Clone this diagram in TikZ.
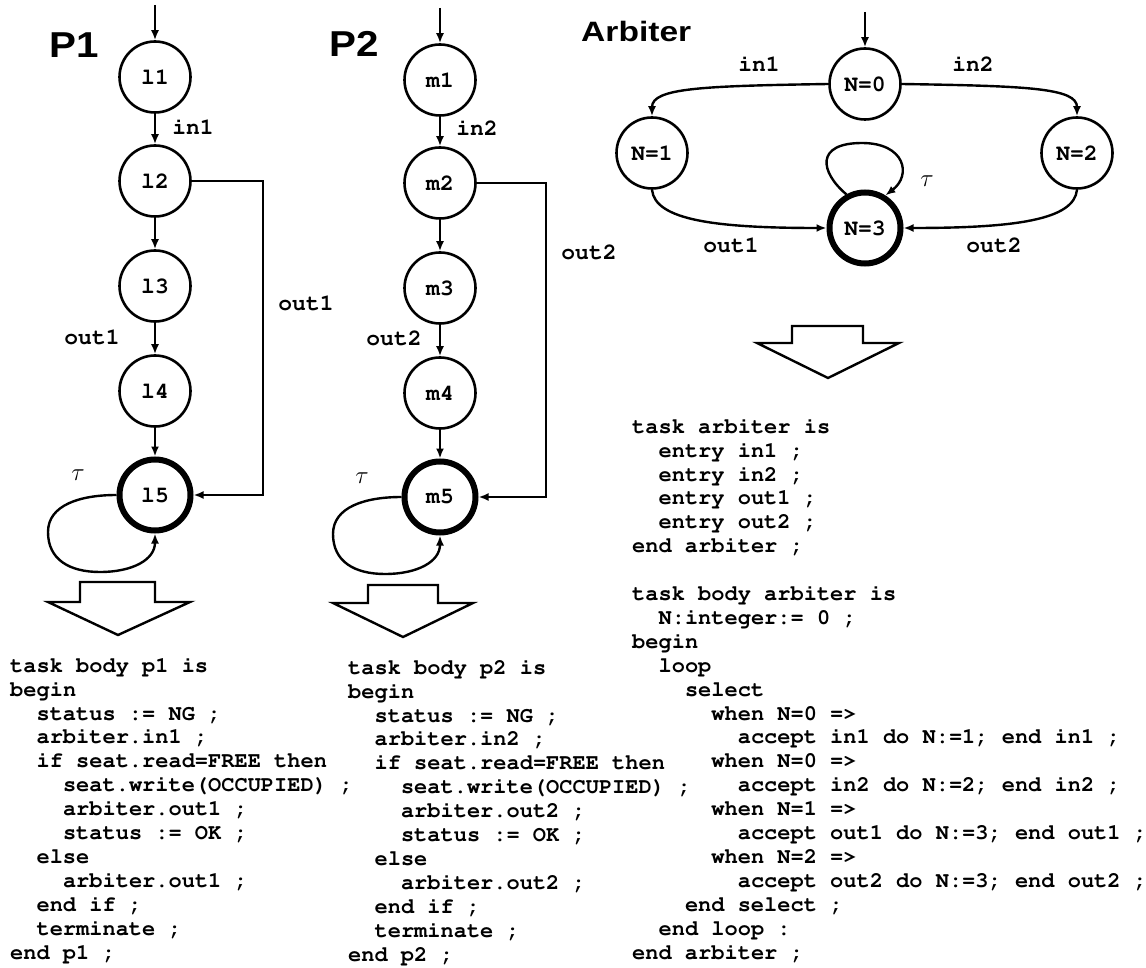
\documentclass[tikz,border=0pt]{standalone}
\usepackage[T1]{fontenc}
\usepackage{fontspec}
\setmainfont{Liberation Sans}
\usetikzlibrary{arrows.meta}
% Courier Bold (URW Nimbus Mono) for all program text and state labels
\newcommand\courb{\fontencoding{T1}\fontfamily{pcr}\fontseries{b}\fontshape{n}\selectfont}
\tikzset{
  locn/.style={circle, draw, line width=2.6pt, minimum size=71pt, inner sep=0pt,
    font=\courb\fontsize{23}{23}\selectfont},
  locfin/.style={locn, line width=6pt},
  trn/.style={line width=2.4pt, -{Latex[length=10pt,width=8pt]}},
  elab/.style={inner sep=0pt, font=\courb\fontsize{23}{23}\selectfont},
  taulab/.style={inner sep=0pt, font=\fontsize{25}{25}\selectfont},
  ttl/.style={inner sep=0pt, anchor=base west, xscale=1.12,
    font=\bfseries\fontsize{36}{36}\selectfont},
  listing/.style={inner sep=0pt, anchor=north west, align=left,
    font=\courb\fontsize{22}{23.9}\selectfont},
  hollowarrow/.style={draw, line width=2.4pt, line join=miter, fill=white}
}
\begin{document}
\begin{tikzpicture}[x=1pt,y=-1pt]
\fill[white] (0,0) rectangle (1146,968);
\useasboundingbox (0,0) rectangle (1146,968);

% ---------- titles ----------
\node[ttl] (tP1) at (49,58) {P1};
\node[ttl] (tP2) at (329,57) {P2};
\node[ttl, xscale=1.07, font=\bfseries\fontsize{28}{28}\selectfont] (tArb) at (581,42) {Arbiter};

% ---------- process P1 ----------
\coordinate (l0) at (155,5);
\node[locn]   (l1) at (155,77)  {l1};
\node[locn]   (l2) at (155,181) {l2};
\node[locn]   (l3) at (155,286) {l3};
\node[locn]   (l4) at (155,391) {l4};
\node[locfin] (l5) at (155,495) {l5};
\coordinate (lr) at (263,181);
\draw[trn] (l0) -- (l1);
\draw[trn] (l1) -- (l2);
\draw[trn] (l2) -- (l3);
\draw[trn] (l3) -- (l4);
\draw[trn] (l4) -- (l5);
\draw[trn] (l2.east) -- (lr) |- (l5.east);
\draw[trn] (l5.west) .. controls (80,495) and (48,505) .. (48,532)
  .. controls (48,560) and (70,572) .. (100,572)
  .. controls (132,572) and (155,560) .. (l5.south);
\node[elab] (lin1)  at (193,127) {in1};
\node[elab] (lout1) at (92,337)  {out1};
\node[elab] (lout1r) at (306,303) {out1};
\node[taulab] (ltau) at (78,475) {$\tau$};

% ---------- process P2 ----------
\coordinate (m0) at (440,8);
\node[locn]   (m1) at (440,80)  {m1};
\node[locn]   (m2) at (440,183) {m2};
\node[locn]   (m3) at (440,288) {m3};
\node[locn]   (m4) at (440,393) {m4};
\node[locfin] (m5) at (440,497) {m5};
\coordinate (mr) at (546,183);
\draw[trn] (m0) -- (m1);
\draw[trn] (m1) -- (m2);
\draw[trn] (m2) -- (m3);
\draw[trn] (m3) -- (m4);
\draw[trn] (m4) -- (m5);
\draw[trn] (m2.east) -- (mr) |- (m5.east);
\draw[trn] (m5.west) .. controls (365,497) and (333,507) .. (333,534)
  .. controls (333,562) and (355,574) .. (385,574)
  .. controls (417,574) and (440,562) .. (m5.south);
\node[elab] (min2)  at (477,128) {in2};
\node[elab] (mout2) at (394,338) {out2};
\node[elab] (mout2r) at (589,252) {out2};
\node[taulab] (mtau) at (362,478) {$\tau$};

% ---------- arbiter ----------
\coordinate (a0) at (865,12);
\node[locn]   (N0) at (865,84)  {N=0};
\node[locn]   (N1) at (652,153) {N=1};
\node[locn]   (N2) at (1077,153) {N=2};
\node[locfin] (N3) at (865,228) {N=3};
\draw[trn] (a0) -- (N0);
\draw[trn] (N0.west) .. controls (702,86) and (652,88) .. (N1.north);
\draw[trn] (N0.east) .. controls (1028,86) and (1077,88) .. (N2.north);
\draw[trn] (N1.south) .. controls (655,220) and (715,228) .. (N3.west);
\draw[trn] (N2.south) .. controls (1074,220) and (1015,228) .. (N3.east);
\draw[trn] (N3.119) .. controls (820,172) and (815,143) .. (862,143)
  .. controls (905,143) and (912,175) .. (N3.58);
\node[elab] (ain1)  at (759,64)  {in1};
\node[elab] (ain2)  at (973,64)  {in2};
\node[elab] (aout1) at (731,245) {out1};
\node[elab] (aout2) at (994,245) {out2};
\node[taulab] (atau) at (927,181) {$\tau$};

% ---------- refinement arrows ----------
\draw[hollowarrow] (80,582) -- (155,582) -- (155,602) -- (190,602)
  -- (118,635) -- (48,602) -- (80,602) -- cycle;
\draw[hollowarrow] (368,585) -- (438,585) -- (438,603) -- (473,603)
  -- (403,637) -- (333,603) -- (368,603) -- cycle;
\draw[hollowarrow] (792,326) -- (863,326) -- (863,343) -- (899,343)
  -- (828,378) -- (757,343) -- (792,343) -- cycle;

% ---------- Ada code ----------
\node[listing] (codeP1) at (10,655) {\rule{0pt}{17pt}task body p1 is\\
begin\\
~~status := NG ;\\
~~arbiter.in1 ;\\
~~if seat.read=FREE then\\
~~~~seat.write(OCCUPIED) ;\\
~~~~arbiter.out1 ;\\
~~~~status := OK ;\\
~~else\\
~~~~arbiter.out1 ;\\
~~end if ;\\
~~terminate ;\\
end p1 ;};

\node[listing] (codeP2) at (348,657) {\rule{0pt}{17pt}task body p2 is\\
begin\\
~~status := NG ;\\
~~arbiter.in2 ;\\
~~if seat.read=FREE then\\
~~~~seat.write(OCCUPIED) ;\\
~~~~arbiter.out2 ;\\
~~~~status := OK ;\\
~~else\\
~~~~arbiter.out2 ;\\
~~end if ;\\
~~terminate ;\\
end p2 ;};

\node[listing] (codeArb) at (632,416) {\rule{0pt}{17pt}task arbiter is\\
~~entry in1 ;\\
~~entry in2 ;\\
~~entry out1 ;\\
~~entry out2 ;\\
end arbiter ;\\
\mbox{}\\
task body arbiter is\\
~~N:integer:= 0 ;\\
begin\\
~~loop\\
~~~~select\\
~~~~~~when N=0 =>\\
~~~~~~~~accept in1 do N:=1; end in1 ;\\
~~~~~~when N=0 =>\\
~~~~~~~~accept in2 do N:=2; end in2 ;\\
~~~~~~when N=1 =>\\
~~~~~~~~accept out1 do N:=3; end out1 ;\\
~~~~~~when N=2 =>\\
~~~~~~~~accept out2 do N:=3; end out2 ;\\
~~~~end select ;\\
~~end loop :\\
end arbiter ;};
\end{tikzpicture}
\end{document}
